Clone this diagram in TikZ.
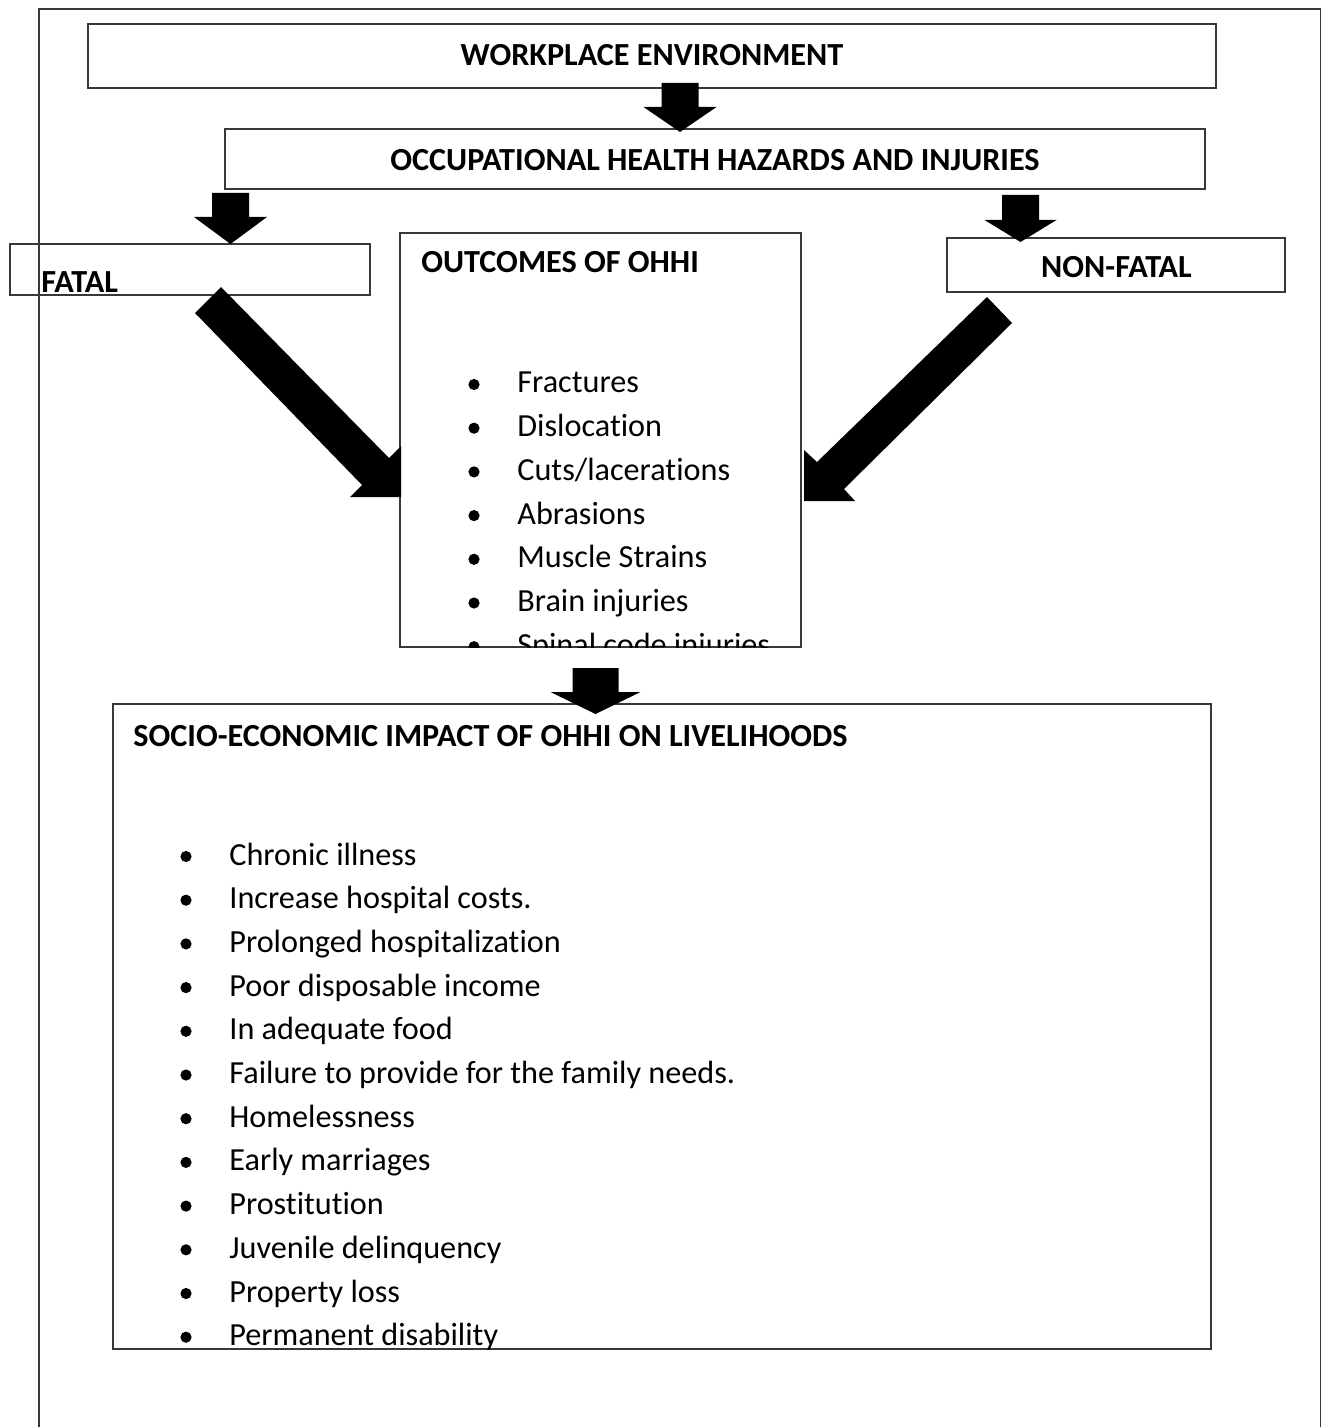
\documentclass[tikz,border=0pt]{standalone}
\usepackage{fontspec}
\setmainfont{Carlito}[Ligatures=NoCommon]
\newcommand\blockdown[6]{\fill[black] (#1-#5,#2) -- (#1+#5,#2) -- (#1+#5,#3) -- (#1+#6,#3) -- (#1,#4) -- (#1-#6,#3) -- (#1-#5,#3) -- cycle;}
\begin{document}
\begin{tikzpicture}[x=0.5pt,y=-0.5pt,
  box/.style={draw=black!78, line width=0.7pt},
  ttl/.style={font=\fontsize{16.1}{18}\selectfont\bfseries, inner sep=0pt},
  itm/.style={font=\fontsize{16.1}{18}\selectfont, inner sep=0pt, anchor=base west},
  dot/.style={fill=black, circle, inner sep=0pt, minimum size=5.6pt}]
\useasboundingbox (0,0) rectangle (1322,1427);
% outer frame (open at the bottom)
\coordinate (fBL) at (39,1427);
\coordinate (fTL) at (39,9);
\coordinate (fTR) at (1320.5,9);
\coordinate (fBR) at (1320.5,1427);
\draw[box] (fBL) -- (fTL) -- (fTR) -- (fBR);
% boxes
\coordinate (wpA) at (88,24);   \coordinate (wpB) at (1216,88);
\coordinate (ocA) at (225,129); \coordinate (ocB) at (1205,189);
\coordinate (faA) at (10,244);  \coordinate (faB) at (370,295);
\coordinate (ouA) at (400,233); \coordinate (ouB) at (801,647);
\coordinate (nfA) at (947,238); \coordinate (nfB) at (1285,292);
\coordinate (soA) at (113,704); \coordinate (soB) at (1211,1349);
\draw[box] (wpA) rectangle (wpB);
\draw[box] (ocA) rectangle (ocB);
\draw[box] (faA) rectangle (faB);
\draw[box] (ouA) rectangle (ouB);
\draw[box] (nfA) rectangle (nfB);
\draw[box] (soA) rectangle (soB);
% titles
\node[ttl, anchor=base] (twp) at (652,66) {WORKPLACE ENVIRONMENT};
\node[ttl, anchor=base] (toc) at (715,171) {OCCUPATIONAL HEALTH HAZARDS AND INJURIES};
\node[ttl, anchor=base west] (tfa) at (41,293) {FATAL};
\node[ttl, anchor=base west] (tou) at (421,273) {OUTCOMES OF OHHI};
\node[ttl, anchor=base] (tnf) at (1116.5,278) {NON-FATAL};
\node[ttl, anchor=base west] (tso) at (133,746) {SOCIO-ECONOMIC IMPACT OF OHHI ON LIVELIHOODS};
% outcomes list
\begin{scope}
\clip (ouA) rectangle (ouB);
\foreach \t [count=\i from 0] in {Fractures,Dislocation,Cuts/lacerations,Abrasions,Muscle Strains,Brain injuries,Spinal code injuries}{
  \node[dot] (od\i) at (474,{393+43.7*\i-8.5}) {};
  \node[itm] (ot\i) at (517,{393+43.7*\i}) {\t};
}
\end{scope}
% socio-economic list
\begin{scope}
\clip (soA) rectangle (soB);
\foreach \t [count=\i from 0] in {Chronic illness,Increase hospital costs.,Prolonged hospitalization,Poor disposable income,In adequate food,Failure to provide for the family needs.,Homelessness,Early marriages,Prostitution,Juvenile delinquency,Property loss,Permanent disability}{
  \node[dot] (sd\i) at (186,{865+43.7*\i-8.5}) {};
  \node[itm] (st\i) at (229,{865+43.7*\i}) {\t};
}
\end{scope}
% block arrows down
\blockdown{680}{83}{107}{132}{18.5}{36.5}
\blockdown{230.5}{193}{217}{244}{18.5}{36.5}
\blockdown{1020.5}{195}{220}{242}{18.5}{36}
\blockdown{595.5}{668}{692}{714}{23}{45}
% diagonal block arrows
\fill[black] (195,313) -- (221,287) -- (389,458) -- (401,446) -- (401,497) -- (350,497) -- (362,485) -- cycle;
\fill[black] (1012,323) -- (987,297) -- (817,462) -- (804,450) -- (804,501) -- (855,501) -- (844,489) -- cycle;
\end{tikzpicture}
\end{document}
